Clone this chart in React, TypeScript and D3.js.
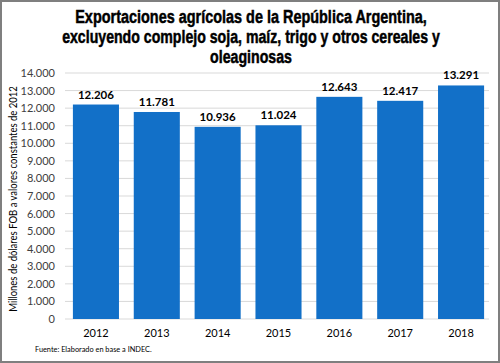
import React, { useLayoutEffect, useRef, useState } from "react";
import * as d3 from "d3";

const years = ["2012", "2013", "2014", "2015", "2016", "2017", "2018"];
const values = [12206, 11781, 10936, 11024, 12643, 12417, 13291];
const yTicks = [0, 1000, 2000, 3000, 4000, 5000, 6000, 7000, 8000, 9000, 10000, 11000, 12000, 13000, 14000];
const titleLines = [
  "Exportaciones agrícolas de la República Argentina,",
  "excluyendo complejo soja, maíz, trigo y otros cereales y",
  "oleaginosas",
];
const titleWidths = [352, 378, 82];
const yTitle = "Millones de dólares FOB a valores constantes de 2012";
const source = "Fuente: Elaborado en base a INDEC.";

const W = 500;
const H = 363;
const fmt = (v: number) => d3.format(",")(v).replace(/,/g, ".");

function FitText(props: {
  x: number;
  y: number;
  width: number;
  rotate?: number;
  anchor?: string;
  children: string;
  [k: string]: any;
}) {
  const { x, y, width, rotate = 0, anchor = "middle", children, ...rest } = props;
  const ref = useRef<SVGTextElement>(null);
  const [s, setS] = useState(1);
  useLayoutEffect(() => {
    if (ref.current) {
      const w = ref.current.getComputedTextLength();
      if (w > 0) setS(width / w);
    }
  }, [width, children]);
  return (
    <g transform={`translate(${x},${y}) rotate(${rotate}) scale(${s},1)`}>
      <text ref={ref} x={0} y={0} textAnchor={anchor} {...rest}>
        {children}
      </text>
    </g>
  );
}

export default function App() {
  const x = d3.scaleBand<string>().domain(years).range([65.6, 491.4]).paddingInner(0.243).paddingOuter(0.12);
  const y = d3.scaleLinear().domain([0, 14000]).range([319, 73]);
  const font = "Lato, 'Open Sans', sans-serif";
  return (
    <svg width={W} height={H} style={{ position: "absolute", left: 0, top: 0, background: "#fff" }}>
      <rect x={1} y={1} width={W - 2} height={H - 2} fill="#fff" stroke="#7f7f7f" strokeWidth={2} />
      {titleLines.map((t, i) => (
        <FitText key={i} x={251} y={23 + i * 20} width={titleWidths[i]} fontFamily="'Liberation Sans', Arial, sans-serif" fontWeight="bold" fontSize={18.5} fill="#000" stroke="#000" strokeWidth={0.5}>
          {t}
        </FitText>
      ))}
      {yTicks.map((t) => (
        <g key={t}>
          <line x1={65} x2={489} y1={y(t)} y2={y(t)} stroke="#d9d9d9" strokeWidth={1} />
          <text x={55} y={y(t) + 4} textAnchor="end" fontFamily={font} fontSize={11} fill="#404040">
            {fmt(t)}
          </text>
        </g>
      ))}
      {years.map((yr, i) => (
        <g key={yr}>
          <rect x={x(yr)} y={y(values[i])} width={x.bandwidth()} height={y(0) - y(values[i])} fill="#1270c8" />
          <text x={(x(yr) as number) + x.bandwidth() / 2} y={y(values[i]) - 6} textAnchor="middle" fontFamily={font} fontWeight="bold" fontSize={11.5} fill="#000">
            {fmt(values[i])}
          </text>
          <text x={(x(yr) as number) + x.bandwidth() / 2} y={337} textAnchor="middle" fontFamily={font} fontSize={11} fill="#000">
            {yr}
          </text>
        </g>
      ))}
      <FitText x={17} y={199} rotate={-90} width={226} fontFamily={font} fontSize={12} fill="#000">
        {yTitle}
      </FitText>
      <FitText x={35} y={352} anchor="start" width={117} fontFamily={font} fontSize={8.5} fill="#000">
        {source}
      </FitText>
    </svg>
  );
}
